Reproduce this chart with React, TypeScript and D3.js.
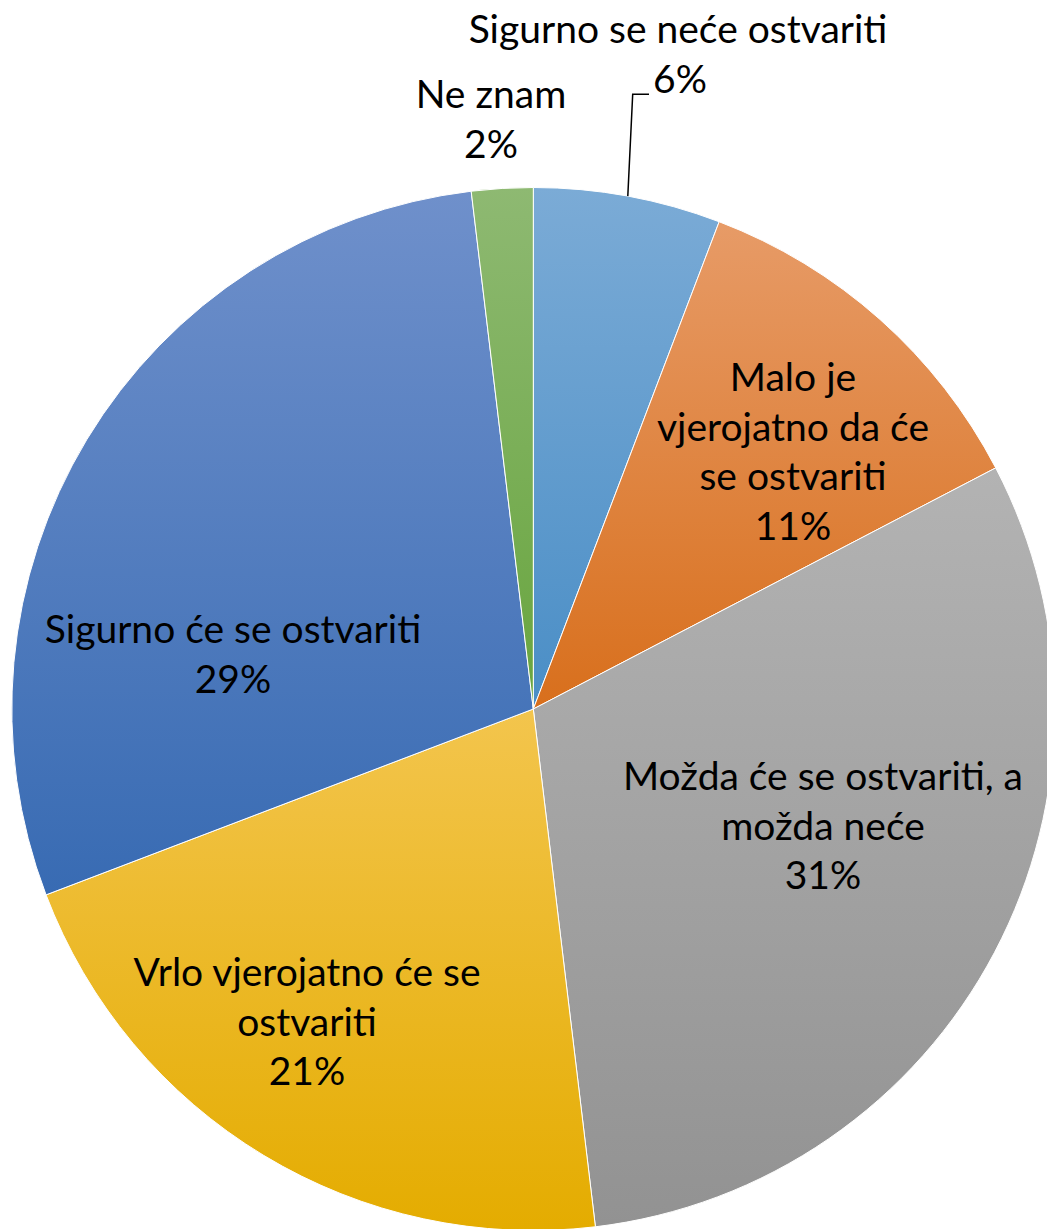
import React from "react";
import * as d3 from "d3";

const categories = [
  "Sigurno se neće ostvariti",
  "Malo je vjerojatno da će se ostvariti",
  "Možda će se ostvariti, a možda neće",
  "Vrlo vjerojatno će se ostvariti",
  "Sigurno će se ostvariti",
  "Ne znam",
];
const values = [5.8, 11.55, 30.75, 21.1, 28.9, 1.9];
const percentLabels = ["6%", "11%", "31%", "21%", "29%", "2%"];
const labelLines = [
  ["Sigurno se neće ostvariti"],
  ["Malo je", "vjerojatno da će", "se ostvariti"],
  ["Možda će se ostvariti, a", "možda neće"],
  ["Vrlo vjerojatno će se", "ostvariti"],
  ["Sigurno će se ostvariti"],
  ["Ne znam"],
];

const gradTop = ["#7babd6", "#e79b67", "#b3b3b3", "#f3c54d", "#6f90cb", "#8eb972"];
const gradBottom = ["#4a8ec6", "#d86f1c", "#929292", "#e4ac00", "#386bb3", "#68a53e"];

// label layout: first-line baseline, centre x (page coordinates)
const labelLayout = [
  { x: 678, y: 43 },
  { x: 793, y: 391 },
  { x: 823, y: 790 },
  { x: 307, y: 986 },
  { x: 233, y: 643 },
  { x: 491, y: 108 },
];
const LINE = 49.5;

export default function App() {
  const W = 1047;
  const H = 1229;
  const cx = 533.3;
  const cy = 709;
  const r = 521.5;

  const pie = d3
    .pie<number>()
    .sort(null)
    .value((d) => d)
    .startAngle(0)
    .endAngle(2 * Math.PI);
  const arcs = pie(values);
  const arc = d3.arc<d3.PieArcDatum<number>>().innerRadius(0).outerRadius(r);

  // leader line for first slice, from the middle of its outer edge
  const a0 = arcs[0];
  const la = (a0.startAngle + a0.endAngle) / 2;
  const lx = cx + Math.sin(la) * r;
  const ly = cy - Math.cos(la) * r;

  return (
    <svg
      width={W}
      height={H}
      style={{ position: "absolute", left: 0, top: 0, display: "block" }}
      fontFamily="Lato, 'Open Sans', sans-serif"
    >
      <defs>
        {values.map((_, i) => (
          <linearGradient key={i} id={`g${i}`} x1="0" y1="0" x2="0" y2="1">
            <stop offset="0" stopColor={gradTop[i]} />
            <stop offset="1" stopColor={gradBottom[i]} />
          </linearGradient>
        ))}
      </defs>
      <rect width={W} height={H} fill="#ffffff" />
      <g transform={`translate(${cx},${cy})`}>
        {arcs.map((d, i) => (
          <path
            key={categories[i]}
            d={arc(d) || ""}
            fill={`url(#g${i})`}
            stroke="#ffffff"
            strokeWidth={1}
          />
        ))}
      </g>
      <polyline
        points={`${lx},${ly} ${632.7},${94.3} ${649},${94.3}`}
        fill="none"
        stroke="#000000"
        strokeWidth={1.5}
      />
      {labelLines.map((lines, i) => {
        const L = labelLayout[i];
        const all = [...lines, percentLabels[i]];
        const isFirst = i === 0;
        return (
          <text key={i} textAnchor="middle" fontSize={39} fill="#000000">
            {all.map((t, j) => (
              <tspan
                key={j}
                x={isFirst && j === all.length - 1 ? L.x + 2 : L.x}
                y={L.y + j * (isFirst ? 50 : LINE)}
              >
                {t}
              </tspan>
            ))}
          </text>
        );
      })}
    </svg>
  );
}
